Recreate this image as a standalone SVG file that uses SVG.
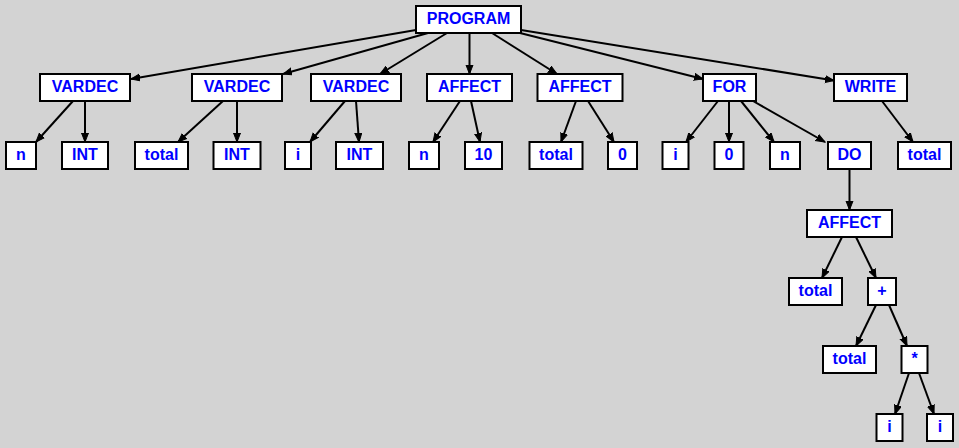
<svg xmlns="http://www.w3.org/2000/svg" width="959" height="448" viewBox="0 0 959 448">
<style>
.n rect{fill:#fff;stroke:#000;stroke-width:2}
.n text{font-family:"Liberation Sans",Arial,sans-serif;font-weight:bold;font-size:16px;fill:#0000ff;text-anchor:middle}
#edges line{stroke:#000;stroke-width:2;marker-end:url(#ah)}
</style>
<defs>
<marker id="ah" markerUnits="userSpaceOnUse" markerWidth="12" markerHeight="10" refX="9" refY="4" orient="auto">
<path d="M0,0.5 L9,4 L0,7.5 z" fill="#000" stroke="#000" stroke-width="1"/>
</marker>
</defs>
<rect width="959" height="448" fill="#d3d3d3"/>
<g id="edges">
<line x1="416" y1="30" x2="131" y2="79"/>
<line x1="428" y1="33" x2="283" y2="74"/>
<line x1="447" y1="33" x2="380" y2="74"/>
<line x1="469.5" y1="33" x2="469.5" y2="74"/>
<line x1="492" y1="33" x2="557" y2="74"/>
<line x1="520" y1="33" x2="703" y2="79"/>
<line x1="521" y1="30" x2="834" y2="80.5"/>
<line x1="73" y1="101" x2="36" y2="142"/>
<line x1="85" y1="101" x2="85" y2="142"/>
<line x1="223" y1="101" x2="178" y2="142"/>
<line x1="237" y1="101" x2="237" y2="142"/>
<line x1="345" y1="101" x2="310" y2="142"/>
<line x1="356" y1="101" x2="359" y2="142"/>
<line x1="460" y1="101" x2="433" y2="142"/>
<line x1="471" y1="101" x2="480" y2="142"/>
<line x1="576" y1="101" x2="561" y2="142"/>
<line x1="588" y1="101" x2="614" y2="142"/>
<line x1="718" y1="101" x2="686" y2="142"/>
<line x1="729" y1="101" x2="729" y2="142"/>
<line x1="741" y1="101" x2="774" y2="142"/>
<line x1="753" y1="101" x2="825" y2="142"/>
<line x1="882" y1="101" x2="913" y2="142"/>
<line x1="849.5" y1="169" x2="849.5" y2="210"/>
<line x1="842" y1="237" x2="822" y2="278"/>
<line x1="856" y1="237" x2="876" y2="278"/>
<line x1="876" y1="305" x2="856" y2="346"/>
<line x1="889" y1="305" x2="907" y2="346"/>
<line x1="909" y1="373" x2="895" y2="414"/>
<line x1="919" y1="373" x2="934" y2="414"/>
</g>
<g id="program" class="n"><rect x="416" y="6" width="105" height="27"/><text x="468.5" y="24">PROGRAM</text></g>
<g id="vardec1" class="n"><rect x="40" y="74" width="90" height="27"/><text x="85" y="92">VARDEC</text></g>
<g id="vardec2" class="n"><rect x="192" y="74" width="90" height="27"/><text x="237" y="92">VARDEC</text></g>
<g id="vardec3" class="n"><rect x="311" y="74" width="90" height="27"/><text x="356" y="92">VARDEC</text></g>
<g id="affect1" class="n"><rect x="427" y="74" width="85" height="27"/><text x="469.5" y="92">AFFECT</text></g>
<g id="affect2" class="n"><rect x="537.5" y="74" width="85" height="27"/><text x="580" y="92">AFFECT</text></g>
<g id="for" class="n"><rect x="703" y="74" width="53" height="27"/><text x="729.5" y="92">FOR</text></g>
<g id="write" class="n"><rect x="834" y="74" width="73" height="27"/><text x="870.5" y="92">WRITE</text></g>
<g id="n1" class="n"><rect x="6" y="142" width="30" height="27"/><text x="21" y="160">n</text></g>
<g id="int1" class="n"><rect x="62" y="142" width="46" height="27"/><text x="85" y="160">INT</text></g>
<g id="total1" class="n"><rect x="135" y="142" width="53" height="27"/><text x="161.5" y="160">total</text></g>
<g id="int2" class="n"><rect x="213.5" y="142" width="47" height="27"/><text x="237" y="160">INT</text></g>
<g id="i1" class="n"><rect x="285" y="142" width="26" height="27"/><text x="298" y="160">i</text></g>
<g id="int3" class="n"><rect x="336" y="142" width="47" height="27"/><text x="359.5" y="160">INT</text></g>
<g id="n2" class="n"><rect x="409" y="142" width="30" height="27"/><text x="424" y="160">n</text></g>
<g id="ten" class="n"><rect x="465" y="142" width="37" height="27"/><text x="483.5" y="160">10</text></g>
<g id="total2" class="n"><rect x="529.5" y="142" width="53" height="27"/><text x="556" y="160">total</text></g>
<g id="zero1" class="n"><rect x="608" y="142" width="29" height="27"/><text x="622.5" y="160">0</text></g>
<g id="i2" class="n"><rect x="662.5" y="142" width="26" height="27"/><text x="675.5" y="160">i</text></g>
<g id="zero2" class="n"><rect x="714.5" y="142" width="29" height="27"/><text x="729" y="160">0</text></g>
<g id="n3" class="n"><rect x="770" y="142" width="30" height="27"/><text x="785" y="160">n</text></g>
<g id="do" class="n"><rect x="828" y="142" width="43" height="27"/><text x="849.5" y="160">DO</text></g>
<g id="total3" class="n"><rect x="898" y="142" width="53" height="27"/><text x="924.5" y="160">total</text></g>
<g id="affect3" class="n"><rect x="807" y="210" width="85" height="27"/><text x="849.5" y="228">AFFECT</text></g>
<g id="total4" class="n"><rect x="789" y="278" width="53" height="27"/><text x="815.5" y="296">total</text></g>
<g id="plus" class="n"><rect x="868" y="278" width="28" height="27"/><text x="882" y="296">+</text></g>
<g id="total5" class="n"><rect x="823" y="346" width="53" height="27"/><text x="849.5" y="364">total</text></g>
<g id="star" class="n"><rect x="901.5" y="346" width="26" height="27"/><text x="914.5" y="364">*</text></g>
<g id="i3" class="n"><rect x="876.5" y="414" width="26" height="27"/><text x="889.5" y="432">i</text></g>
<g id="i4" class="n"><rect x="927" y="414" width="26" height="27"/><text x="940" y="432">i</text></g>
</svg>
